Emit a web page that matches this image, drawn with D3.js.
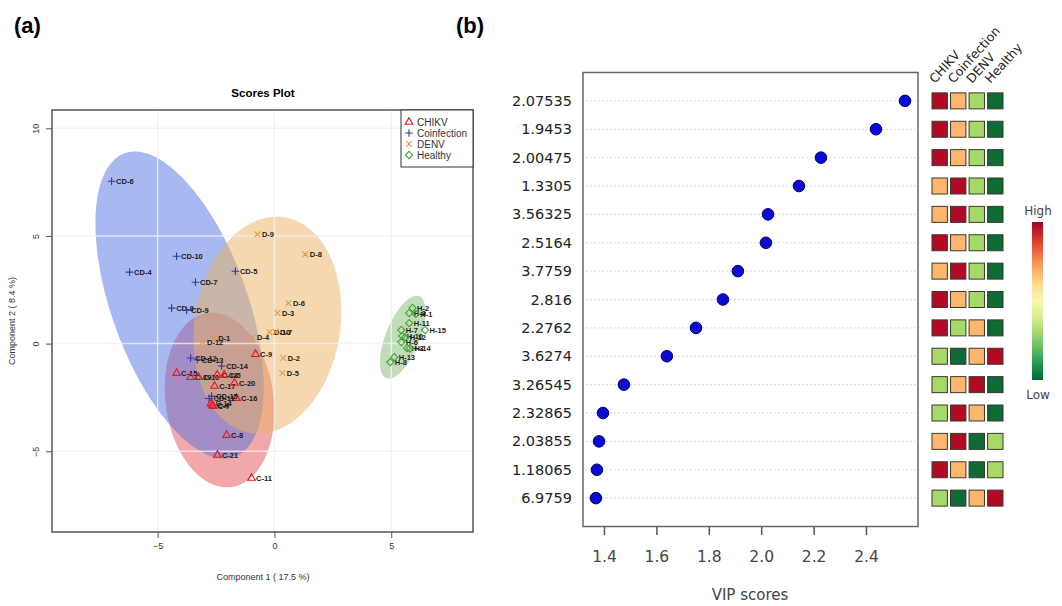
<!DOCTYPE html>
<meta charset="utf-8">
<script src="https://d3js.org/d3.v7.min.js"></script>
<style>body{margin:0;background:#fff}</style>
<div id="chart"></div>
<script>

// ---- (a) scores plot data ----
var groups = ["CHIKV", "Coinfection", "DENV", "Healthy"];

var sampleIds = [
  "C-9","C-15","C-19","C-10","C-18","C-5","C-17","C-20","C-16","C-14","C-4","C-7","C-8","C-21","C-11",
  "CD-6","CD-10","CD-4","CD-5","CD-7","CD-8","CD-9","CD-12","CD-13","CD-14","CD-15","CD-11",
  "D-9","D-8","D-6","D-3","D-10","D-7","D-4","D-1","D-12","D-2","D-5",
  "H-2","H-9","H-1","H-11","H-7","H-15","H-10","H-12","H-6","H-3","H-14","H-13","H-8"
];
var sampleGroup = [
  0,0,0,0,0,0,0,0,0,0,0,0,0,0,0,
  1,1,1,1,1,1,1,1,1,1,1,1,
  2,2,2,2,2,2,2,2,2,2,2,
  3,3,3,3,3,3,3,3,3,3,3,3,3
];
var comp1 = [
  -0.81,-4.19,-3.59,-3.25,-2.45,-2.15,-2.56,-1.71,-1.62,-2.72,-2.66,-2.62,-2.05,-2.44,-0.98,
  -6.97,-4.19,-6.20,-1.67,-3.38,-4.40,-3.76,-3.59,-3.30,-2.26,-2.69,-2.80,
  -0.73,1.32,0.60,0.13,-0.21,0.05,-0.94,-2.60,-3.08,0.38,0.34,
  5.91,5.77,6.05,5.77,5.43,6.45,5.47,5.60,5.43,5.68,5.80,5.13,4.96
];
var comp2 = [
  -0.49,-1.37,-1.56,-1.55,-1.45,-1.45,-1.97,-1.83,-2.53,-2.78,-2.85,-2.90,-4.25,-5.17,-6.24,
  7.54,4.06,3.32,3.36,2.85,1.65,1.55,-0.67,-0.75,-1.04,-2.44,-2.55,
  5.08,4.15,1.88,1.42,0.53,0.55,0.30,0.26,0.07,-0.67,-1.37,
  1.65,1.42,1.38,0.95,0.63,0.63,0.35,0.30,0.07,-0.21,-0.23,-0.63,-0.86
];

// confidence ellipses: centre and half axes, in score units
var ellCx = [-2.35, -4.06, -0.30, 5.49];
var ellCy = [-2.62, 1.79, 0.86, 0.30];
var ellMajor = [[-0.51, 4.04], [-2.35, 7.05], [0.73, 5.01], [0.705, 1.90]];
var ellMinor = [[2.29, 0.34], [2.73, 1.07], [3.08, -0.53], [0.675, -0.29]];

var xTicksA = [-5, 0, 5];
var yTicksA = [-5, 0, 5, 10];

// ---- (b) VIP scores data ----
var features = ["2.07535","1.9453","2.00475","1.3305","3.56325","2.5164","3.7759","2.816",
                "2.2762","3.6274","3.26545","2.32865","2.03855","1.18065","6.9759"];
var vip = [2.549, 2.438, 2.228, 2.144, 2.026, 2.018, 1.911, 1.854, 1.751, 1.640, 1.476, 1.396, 1.381, 1.373, 1.369];
// relative level per group (1 = lowest, 4 = highest), order CHIKV, Coinfection, DENV, Healthy
var levels = [
  [4,3,2,1],[4,3,2,1],[4,3,2,1],[3,4,2,1],[3,4,2,1],
  [4,3,2,1],[3,4,2,1],[4,3,2,1],[4,2,3,1],[2,1,3,4],
  [2,3,4,1],[2,4,3,1],[3,4,1,2],[4,3,1,2],[2,1,3,4]
];
var xTicksB = [1.4, 1.6, 1.8, 2.0, 2.2, 2.4];

var groupColors = ["#e3181f", "#2b3aa8", "#e09a45", "#3fa535"];
var ellColors = ["#e55151", "#5171e1", "#ebb161", "#81b971"];

var svg = d3.select("#chart").append("svg")
  .attr("width", 1062).attr("height", 606)
  .style("font-family", "Liberation Sans, Arial, sans-serif");

// panel letters
svg.append("text").attr("x", 14).attr("y", 33).attr("font-size", 22).attr("font-weight", "bold").text("(a)");
svg.append("text").attr("x", 456).attr("y", 33).attr("font-size", 22).attr("font-weight", "bold").text("(b)");

// ================= (a) =================
var x = d3.scaleLinear().domain([-9.5, 8.5]).range([52.5, 473]);
var y = d3.scaleLinear().domain([-8.75, 10.85]).range([532, 110]);

var a = svg.append("g");

// ellipses
var line = d3.line().curve(d3.curveLinearClosed);
groups.forEach(function(g, i) {
  var pts = d3.range(0, 2 * Math.PI, Math.PI / 90).map(function(t) {
    var dx = ellMajor[i][0] * Math.cos(t) + ellMinor[i][0] * Math.sin(t);
    var dy = ellMajor[i][1] * Math.cos(t) + ellMinor[i][1] * Math.sin(t);
    return [x(ellCx[i] + dx), y(ellCy[i] + dy)];
  });
  a.append("path").attr("d", line(pts))
    .attr("fill", ellColors[i]).attr("fill-opacity", 0.5);
});

// grid
a.selectAll(".gx").data(xTicksA).enter().append("line")
  .attr("x1", function(d) { return x(d); }).attr("x2", function(d) { return x(d); })
  .attr("y1", 110).attr("y2", 532)
  .attr("stroke", "#f0f0f0").attr("stroke-opacity", 0.8).attr("stroke-width", 1.5);
a.selectAll(".gy").data(yTicksA).enter().append("line")
  .attr("y1", function(d) { return y(d); }).attr("y2", function(d) { return y(d); })
  .attr("x1", 52).attr("x2", 473)
  .attr("stroke", "#f0f0f0").attr("stroke-opacity", 0.8).attr("stroke-width", 1.5);

// symbols
function triangle(ctx) { ctx.moveTo(0, -4.3); ctx.lineTo(3.8, 2.3); ctx.lineTo(-3.8, 2.3); ctx.closePath(); }
function plus(ctx) { ctx.moveTo(-3.8, 0); ctx.lineTo(3.8, 0); ctx.moveTo(0, -3.8); ctx.lineTo(0, 3.8); }
function times(ctx) { ctx.moveTo(-2.8, -2.8); ctx.lineTo(2.8, 2.8); ctx.moveTo(2.8, -2.8); ctx.lineTo(-2.8, 2.8); }
function diamond(ctx) { ctx.moveTo(0, -3.6); ctx.lineTo(3.6, 0); ctx.lineTo(0, 3.6); ctx.lineTo(-3.6, 0); ctx.closePath(); }
var shapes = [triangle, plus, times, diamond].map(function(f) {
  return d3.symbol().type({ draw: f })();
});

var pts = a.selectAll(".pt").data(sampleIds).enter().append("g")
  .attr("transform", function(d, i) { return "translate(" + x(comp1[i]) + "," + y(comp2[i]) + ")"; });
pts.append("path")
  .attr("d", function(d, i) { return shapes[sampleGroup[i]]; })
  .attr("fill", "none")
  .attr("stroke", function(d, i) { return groupColors[sampleGroup[i]]; })
  .attr("stroke-width", 1.1);
pts.append("text")
  .attr("x", 4.5).attr("y", 2.8)
  .attr("font-size", 7.5).attr("font-weight", "bold").attr("fill", "#1a1a1a")
  .text(function(d) { return d; });

// box
a.append("rect").attr("x", 52).attr("y", 110).attr("width", 421).attr("height", 422)
  .attr("fill", "none").attr("stroke", "#555").attr("stroke-width", 1.5);

// axes
a.append("g").attr("transform", "translate(0,532)")
  .call(d3.axisBottom(x).tickValues(xTicksA).tickSize(6).tickPadding(5).tickFormat(d3.format("d")))
  .call(function(g) { g.select(".domain").remove(); g.selectAll("text").attr("font-size", 9).attr("fill", "#333"); g.selectAll("line").attr("stroke", "#555"); });
var ya = a.append("g").attr("transform", "translate(52,0)")
  .call(d3.axisLeft(y).tickValues(yTicksA).tickSize(6).tickFormat(d3.format("d")))
  .call(function(g) { g.select(".domain").remove(); g.selectAll("line").attr("stroke", "#555"); });
ya.selectAll("text").attr("font-size", 9).attr("fill", "#333")
  .attr("x", null).attr("dy", null).attr("text-anchor", "middle")
  .attr("transform", "translate(-13,0) rotate(-90)");

a.append("text").attr("x", 263).attr("y", 97).attr("text-anchor", "middle")
  .attr("font-size", 11.5).attr("font-weight", "bold").text("Scores Plot");
a.append("text").attr("x", 263).attr("y", 580).attr("text-anchor", "middle")
  .attr("font-size", 9).attr("fill", "#333").text("Component 1 ( 17.5 %)");
a.append("text").attr("transform", "translate(15,321) rotate(-90)").attr("text-anchor", "middle")
  .attr("font-size", 9).attr("fill", "#333").text("Component 2 ( 8.4 %)");

// legend
var lg = a.append("g");
lg.append("rect").attr("x", 401).attr("y", 110).attr("width", 72).attr("height", 57)
  .attr("fill", "#fff").attr("stroke", "#333").attr("stroke-width", 1);
groups.forEach(function(g, i) {
  var ly = 122 + i * 11;
  lg.append("path").attr("transform", "translate(409," + ly + ")").attr("d", shapes[i])
    .attr("fill", "none").attr("stroke", groupColors[i]).attr("stroke-width", 1.1);
  lg.append("text").attr("x", 417).attr("y", ly + 3.5).attr("font-size", 10).attr("fill", "#333").text(g);
});

// ================= (b) =================
var b = svg.append("g").style("font-family", "DejaVu Sans, sans-serif");
var xb = d3.scaleLinear().domain([1.4, 2.4]).range([604, 866]);
var yb = d3.scalePoint().domain(features).range([72.5, 526.5]).padding(1);

b.selectAll(".grid").data(features).enter().append("line")
  .attr("x1", 586).attr("x2", 916)
  .attr("y1", function(d) { return yb(d); }).attr("y2", function(d) { return yb(d); })
  .attr("stroke", "#c8c8c8").attr("stroke-width", 1).attr("stroke-dasharray", "1.5,2.5");

b.append("rect").attr("x", 583).attr("y", 72.5).attr("width", 335).attr("height", 454)
  .attr("fill", "none").attr("stroke", "#666").attr("stroke-width", 1.5);

b.selectAll(".dot").data(features).enter().append("circle")
  .attr("cx", function(d, i) { return xb(vip[i]); })
  .attr("cy", function(d) { return yb(d); })
  .attr("r", 5.8).attr("fill", "#0a0ad0").attr("stroke", "#000070").attr("stroke-width", 1);

b.selectAll(".ylab").data(features).enter().append("text")
  .attr("x", 572).attr("y", function(d) { return yb(d) + 5; })
  .attr("text-anchor", "end").attr("font-size", 14.5).attr("fill", "#222")
  .text(function(d) { return d; });

b.append("g").attr("transform", "translate(0,527)")
  .call(d3.axisBottom(xb).tickValues(xTicksB).tickSize(8).tickPadding(16).tickFormat(d3.format(".1f")))
  .call(function(g) {
    g.select(".domain").remove();
    g.selectAll("line").attr("stroke", "#555").attr("stroke-width", 1.5);
    g.selectAll("text").attr("font-size", 15.5).attr("fill", "#444").style("font-family", "DejaVu Sans, sans-serif");
  });
b.append("text").attr("x", 750).attr("y", 600).attr("text-anchor", "middle")
  .attr("font-size", 15).attr("fill", "#444").text("VIP scores");

// heatmap
var xc = d3.scaleBand().domain(groups).range([932, 1003]).paddingInner(0.17);
var heat = d3.scaleOrdinal().domain([1, 2, 3, 4]).range(["#0f6a36", "#a6d96a", "#fdb66b", "#b10a26"]);

features.forEach(function(f, r) {
  b.selectAll(null).data(levels[r]).enter().append("rect")
    .attr("x", function(d, j) { return xc(groups[j]); })
    .attr("y", yb(f) - 8)
    .attr("width", xc.bandwidth()).attr("height", 16)
    .attr("fill", function(d) { return heat(d); })
    .attr("stroke", "#3a3a2a").attr("stroke-width", 1);
});

b.selectAll(".colhead").data(groups).enter().append("text")
  .attr("transform", function(d) { return "translate(" + (xc(d) + 3) + ",84) rotate(-48)"; })
  .attr("font-size", 12.5).attr("fill", "#222")
  .text(function(d) { return d; });

// colour key
var defs = svg.append("defs");
var grad = defs.append("linearGradient").attr("id", "key").attr("x1", 0).attr("x2", 0).attr("y1", 0).attr("y2", 1);
d3.range(0, 1.0001, 0.1).forEach(function(t) {
  grad.append("stop").attr("offset", t).attr("stop-color", d3.interpolateRdYlGn(t));
});
b.append("rect").attr("x", 1032).attr("y", 222).attr("width", 11).attr("height", 158)
  .attr("fill", "url(#key)");
b.append("text").attr("x", 1038).attr("y", 215).attr("text-anchor", "middle")
  .attr("font-size", 12).attr("fill", "#444").text("High");
b.append("text").attr("x", 1038).attr("y", 399).attr("text-anchor", "middle")
  .attr("font-size", 12).attr("fill", "#444").text("Low");

</script>
